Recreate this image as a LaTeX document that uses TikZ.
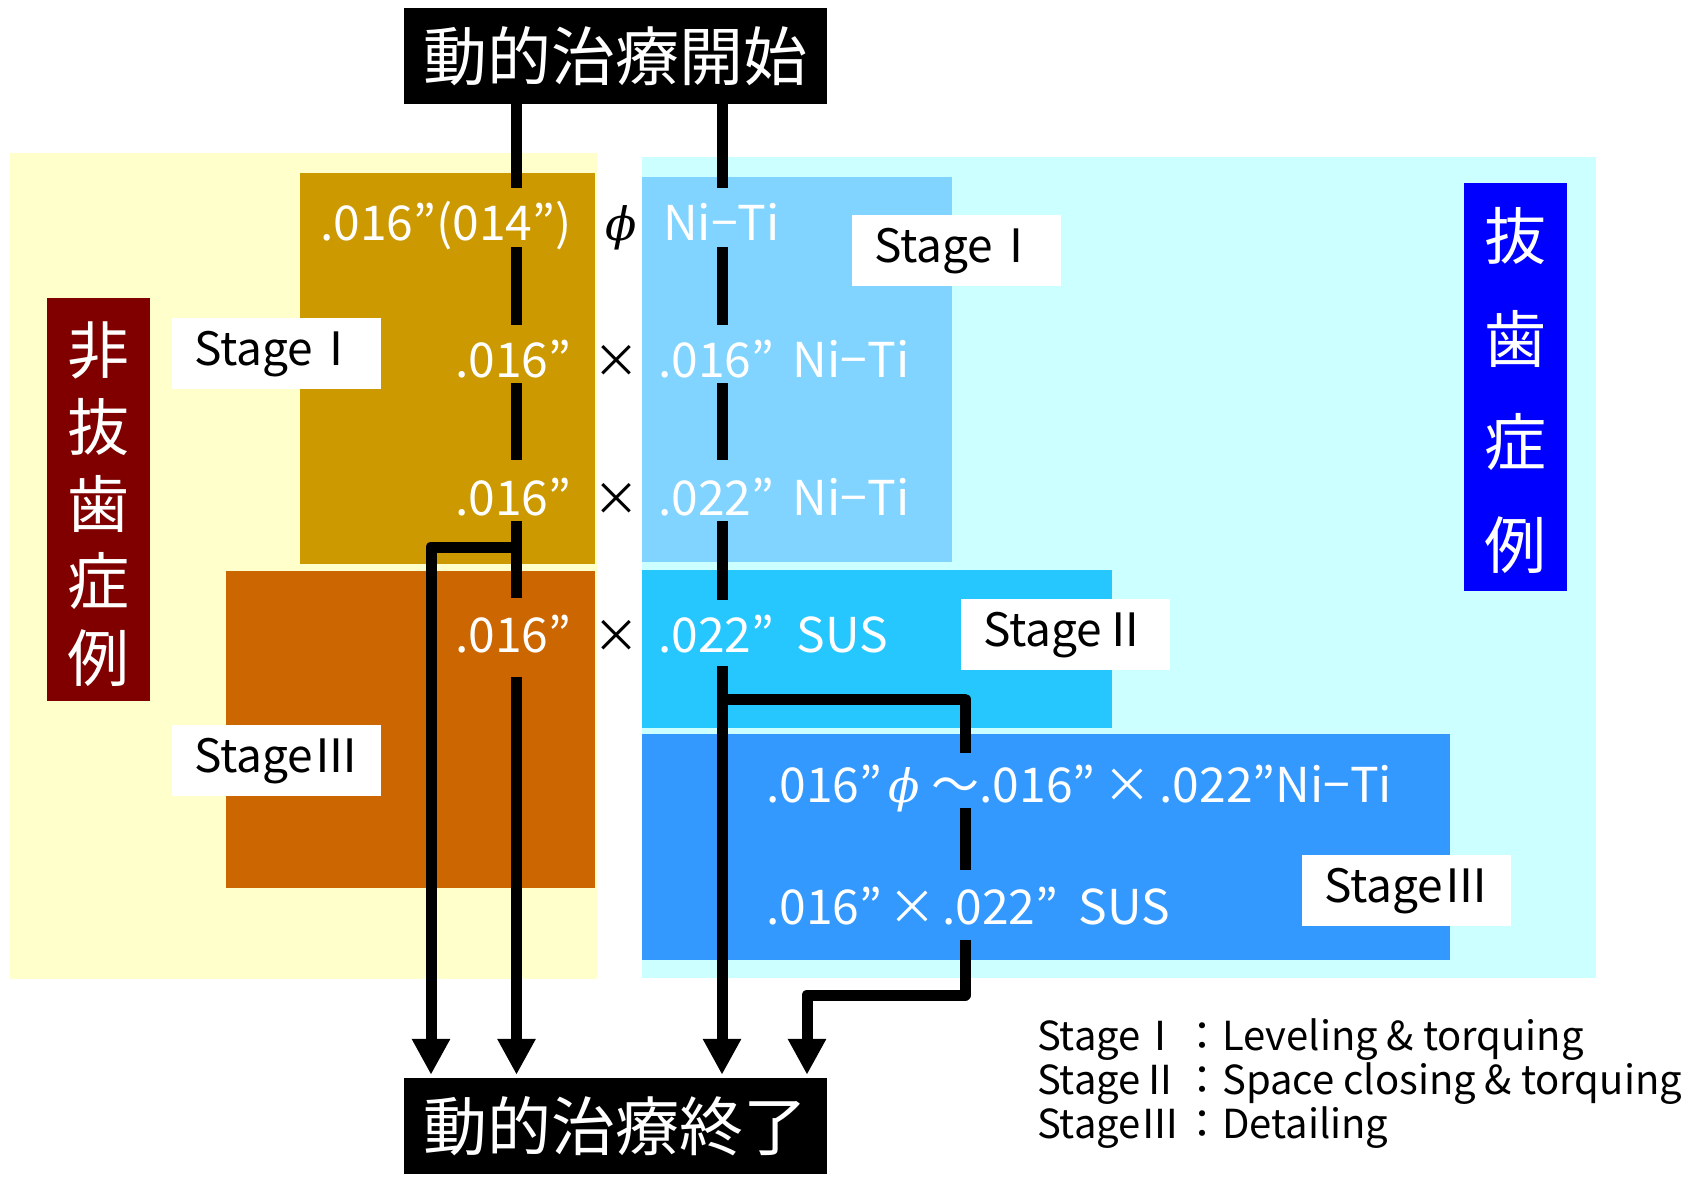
\documentclass[tikz,border=0pt]{standalone}
\usepackage{fontspec}
\setmainfont{Noto Sans CJK JP}
\newfontfamily\phifont{DejaVu Serif}
\usetikzlibrary{arrows.meta}
\definecolor{yel}{HTML}{FFFFCC}
\definecolor{cyanbg}{HTML}{CCFFFF}
\definecolor{gold}{HTML}{CC9900}
\definecolor{orng}{HTML}{CC6600}
\definecolor{lbA}{HTML}{80D4FF}
\definecolor{lbB}{HTML}{26C6FF}
\definecolor{lbC}{HTML}{3399FF}
\definecolor{dred}{HTML}{800000}
\definecolor{pblue}{HTML}{0000FF}
\newcommand{\myphi}{{\phifont\itshape ϕ}}
\begin{document}
\begin{tikzpicture}[x=1pt,y=-1pt,
  conn/.style={line width=11pt,line join=round},
  arr/.style={conn,-{Triangle[length=36pt,width=36pt]},shorten >=3pt},
  hdr/.style={fill=black,text=white,font=\fontsize{64}{64}\selectfont,minimum width=423pt,minimum height=96pt,inner sep=0pt},
  lbl/.style={fill=white,text=black,font=\fontsize{46}{46}\selectfont,inner sep=0pt,minimum width=209pt,minimum height=71pt,anchor=north west},
  wtxt/.style={text=white,font=\fontsize{48}{48}\selectfont,inner sep=0pt,anchor=base west},
  btxt/.style={text=black,font=\fontsize{46}{46}\selectfont,inner sep=0pt,anchor=base},
  vtxt/.style={text=white,font=\fontsize{62}{77}\selectfont,align=center,inner sep=0pt},
  leg/.style={text=black,font=\fontsize{40}{40}\selectfont,inner sep=0pt,anchor=base west}
]
\useasboundingbox (0,0) rectangle (1708,1176);
% background panels
\fill[yel] (10,153) rectangle (597,979);
\fill[cyanbg] (642,157) rectangle (1596,978);
\fill[gold] (300,173) rectangle (595,564);
\fill[orng] (226,571) rectangle (595,888);
\fill[lbA] (642,177) rectangle (952,562);
\fill[lbB] (642,570) rectangle (1112,728);
\fill[lbC] (642,734) rectangle (1450,960);
\fill[dred] (47,298) rectangle (150,701);
\fill[pblue] (1464,183) rectangle (1567,591);
% header boxes
\node[hdr] (top) at (615.5,56) {動的治療開始};
\node[hdr] (bot) at (615.5,1126) {動的治療終了};
% column coordinates
\coordinate (xL) at (516.5,0);
\coordinate (xLL) at (431,0);
\coordinate (xR) at (722,0);
\coordinate (xRR) at (807,0);
\coordinate (bL) at (516.5,547);
\coordinate (bR) at (722,699);
\coordinate (cR) at (965,995);
% connectors
\draw[arr] (top.south -| xL) -- (bot.north -| xL);
\draw[arr] (bL) -| (bot.north -| xLL);
\draw[arr] (top.south -| xR) -- (bot.north -| xR);
\draw[arr] (bR) -| (cR) -| (bot.north -| xRR);
% row 1
\node[wtxt,fill=gold,text height=52.5pt,text depth=7pt] (r1l) at (320,240) {.016”(014”)};
\node[btxt,font=\fontsize{46}{46}\selectfont] (r1p) at (621,240) {\myphi};
\node[wtxt,fill=lbA,text height=52.5pt,text depth=7pt] (r1r) at (663,240) {Ni−Ti};
% row 2
\node[wtxt,fill=gold,text height=52.5pt,text depth=6pt] (r2l) at (455,377) {.016”};
\node[btxt] (r2x) at (616,377) {×};
\node[wtxt,fill=lbA,text height=52.5pt,text depth=6pt] (r2r) at (658,377) {.016”\hspace{8pt} Ni−Ti};
% row 3
\node[wtxt,fill=gold,text height=55pt,text depth=5.5pt] (r3l) at (455,515) {.016”};
\node[btxt] (r3x) at (616,515) {×};
\node[wtxt,fill=lbA,text height=55pt,text depth=5.5pt] (r3r) at (658,515) {.022”\hspace{8pt} Ni−Ti};
% row 4
\node[wtxt,fill=orng,text height=54.5pt,text depth=24.5pt] (r4l) at (455,652.5) {.016”};
\node[btxt] (r4x) at (616,652.5) {×};
\node[wtxt,fill=lbB,text height=52.5pt,text depth=13.5pt] (r4r) at (658,652.5) {.022”\hspace{12pt} SUS};
% rows 5-6
\node[wtxt,fill=lbC,text height=49.5pt,text depth=5pt] (r5) at (766,802.5) {.016”\hspace{6pt}{\fontsize{46}{46}\selectfont\myphi}\hspace{12pt}～.016”\hspace{8pt}×\hspace{8pt}.022”Ni−Ti};
\node[wtxt,fill=lbC,text height=54pt,text depth=15.6pt] (r6) at (766,924) {.016”\hspace{6pt}×\hspace{6pt}.022”\hspace{10pt} SUS};
% stage labels
\node[lbl] (s1l) at (172,318) {StageⅠ};
\node[lbl] (s1r) at (852,215) {StageⅠ};
\node[lbl] (s2r) at (961,599) {StageⅡ};
\node[lbl] (s3l) at (172,725) {StageⅢ};
\node[lbl] (s3r) at (1302,855) {StageⅢ};
% vertical titles
\node[vtxt] (nonext) at (98.5,504) {非\\抜\\歯\\症\\例};
\node[vtxt,font=\fontsize{62}{103}\selectfont] (ext) at (1515.5,390) {抜\\歯\\症\\例};
% legend
\node[leg] (lg1) at (1037,1050.6) {StageⅠ};
\node[leg] (lg2) at (1037,1094.6) {StageⅡ};
\node[leg] (lg3) at (1037,1138.6) {StageⅢ};
\node[leg] (ld1) at (1182,1050.6) {：Leveling \& torquing};
\node[leg] (ld2) at (1182,1094.6) {：Space closing \& torquing};
\node[leg] (ld3) at (1182,1138.6) {：Detailing};
\end{tikzpicture}
\end{document}
